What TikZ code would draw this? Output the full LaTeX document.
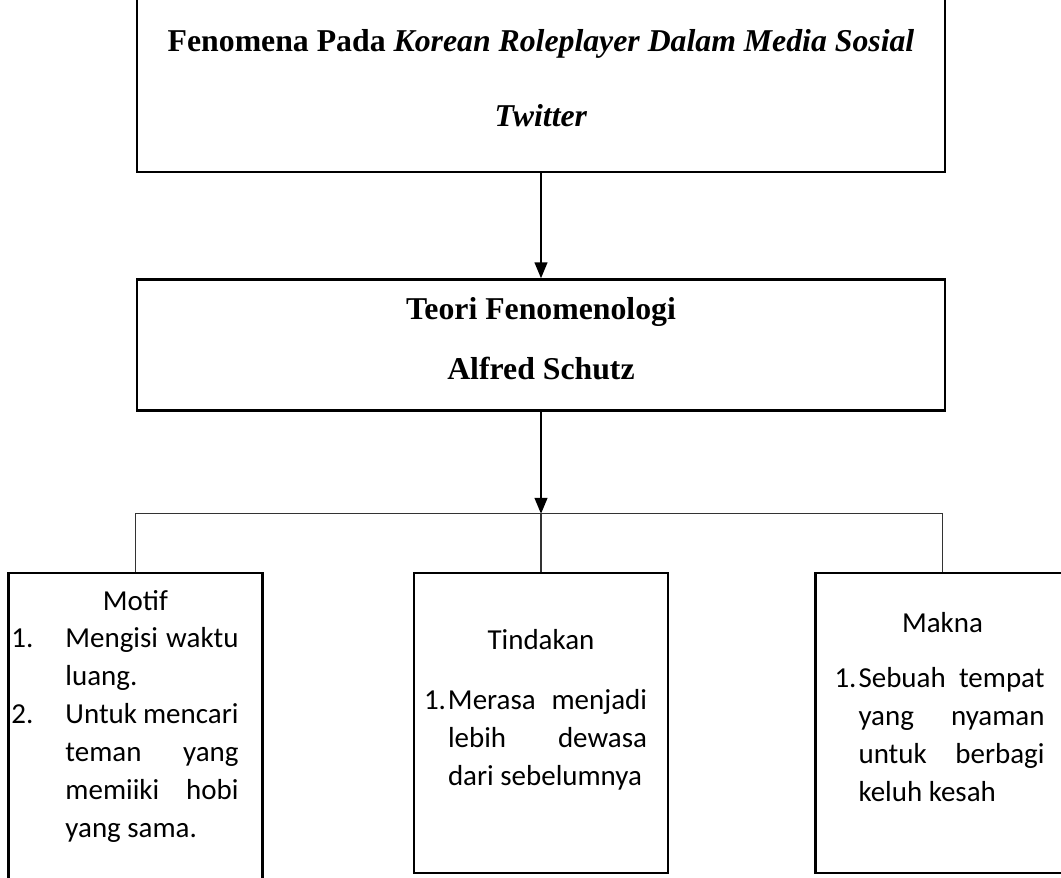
\documentclass[tikz,border=0pt]{standalone}
\usepackage{fontspec}
\setmainfont{Liberation Serif}
\newfontfamily\calibri{Carlito}
\usetikzlibrary{positioning,arrows.meta}

\begin{document}
\begin{tikzpicture}[
    mainbox/.style={
        draw=black,
        line width=1.8pt,
        align=center,
        minimum width=20.2cm,
        font=\bfseries\fontsize{22.6}{#1}\selectfont
    },
    subbox/.style={
        draw=black,
        line width=1.8pt,
        minimum width=6.35cm,
        minimum height=#1
    },
    subtitle/.style={
        font=\calibri\mdseries\fontsize{20.6}{27}\selectfont,
        inner sep=0pt
    },
    itemlist/.style={
        font=\calibri\mdseries\fontsize{20.6}{27}\selectfont,
        anchor=base west,
        inner sep=0pt
    },
    arrow/.style={-{Triangle[length=4mm, width=3.2mm]}, line width=1.4pt},
    branch/.style={line width=1pt, draw=black!80}
]

\useasboundingbox (0,0) rectangle (26.525,21.925);

\node[mainbox=53.4pt, minimum height=4.675cm] (fenomena) at (13.525,19.9625)
    {Fenomena Pada \textit{Korean Roleplayer Dalam Media Sosial}\\ \textit{Twitter}};
\node[mainbox=42.7pt, minimum height=3.275cm, text depth=0.325cm, below=2.625cm of fenomena] (teori)
    {Teori Fenomenologi\\ Alfred Schutz};
\coordinate[below=2.55cm of teori.south] (split);

\node[subbox=7.5cm, below=1.45cm of split] (tindakan) {};
\node[subbox=8.5cm, left=3.725cm of tindakan.north west, anchor=north east] (motif) {};
\node[subbox=7.5cm, right=3.625cm of tindakan.north east, anchor=north west] (makna) {};

\node[subtitle, below=0.975cm of motif.north, anchor=base] (motiftitle) {Motif};
\node[subtitle, below=1.95cm of tindakan.north, anchor=base] (tindakantitle) {Tindakan};
\node[subtitle, below=1.525cm of makna.north, anchor=base] (maknatitle) {Makna};

\node[itemlist] (motiflist) at ([xshift=0.1cm, yshift=-1.9cm]motif.north west) {%
    \begin{tabular}[t]{@{}p{1.35cm}@{}p{4.325cm}@{}}
    1. & \makebox[4.325cm][s]{Mengisi waktu}\\
       & luang.\\
    2. & \makebox[4.325cm][s]{Untuk mencari}\\
       & \makebox[4.325cm][s]{teman yang}\\
       & \makebox[4.325cm][s]{memiiki hobi}\\
       & yang sama.
    \end{tabular}};
\node[itemlist] (tindakanlist) at ([xshift=0.275cm, yshift=-3.45cm]tindakan.north west) {%
    \begin{tabular}[t]{@{}p{0.6cm}@{}p{4.975cm}@{}}
    1. & \makebox[4.975cm][s]{Merasa menjadi}\\
       & \makebox[4.975cm][s]{lebih dewasa}\\
       & dari sebelumnya
    \end{tabular}};
\node[itemlist] (maknalist) at ([xshift=0.5cm, yshift=-2.9cm]makna.north west) {%
    \begin{tabular}[t]{@{}p{0.6cm}@{}p{4.65cm}@{}}
    1. & \makebox[4.65cm][s]{Sebuah tempat}\\
       & \makebox[4.65cm][s]{yang nyaman}\\
       & \makebox[4.65cm][s]{untuk berbagi}\\
       & keluh kesah
    \end{tabular}};

\draw[arrow] (fenomena) -- (teori);
\draw[arrow] (teori) -- (split);

\draw[branch] (motif.north |- split) -- (makna.north |- split);
\draw[branch] (motif.north |- split) -- (motif.north);
\draw[branch] (split) -- (tindakan.north);
\draw[branch] (makna.north |- split) -- (makna.north);

\end{tikzpicture}
\end{document}
